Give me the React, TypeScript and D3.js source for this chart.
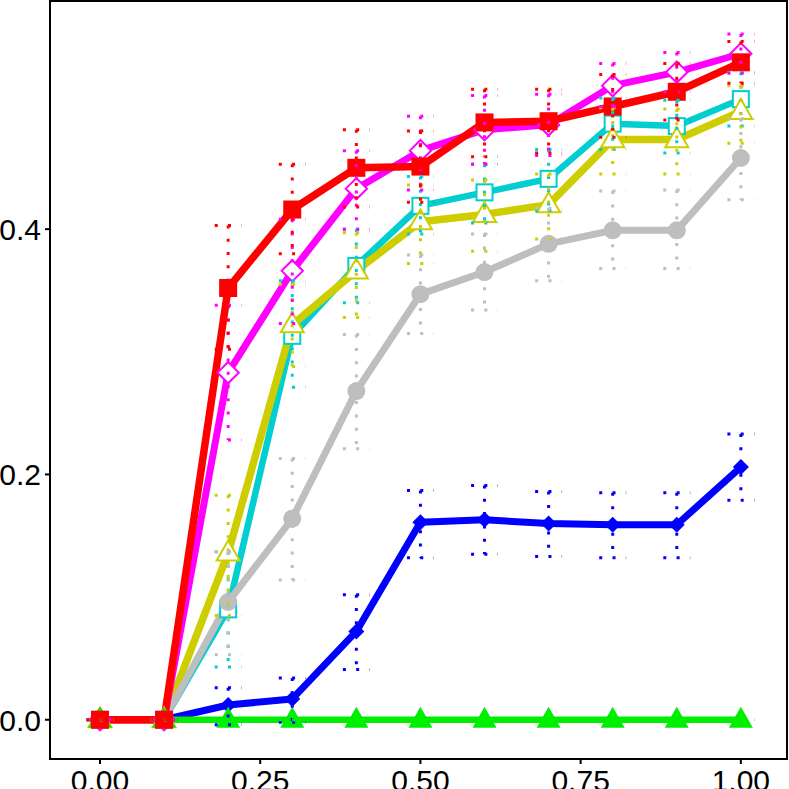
import * as d3 from "d3";

const xs = [0, 0.1, 0.2, 0.3, 0.4, 0.5, 0.6, 0.7, 0.8, 0.9, 1.0];

const redMean = [0, 0, 0.352, 0.416, 0.45, 0.451, 0.487, 0.488, 0.5, 0.512, 0.536];
const redLo = [0, 0, 0.302, 0.38, 0.418, 0.422, 0.459, 0.462, 0.475, 0.489, 0.519];
const redHi = [0, 0, 0.403, 0.453, 0.481, 0.48, 0.514, 0.514, 0.526, 0.535, 0.553];

const magentaMean = [0, 0, 0.283, 0.366, 0.433, 0.464, 0.481, 0.485, 0.517, 0.528, 0.543];
const magentaLo = [0, 0, 0.228, 0.323, 0.4, 0.432, 0.453, 0.46, 0.5, 0.512, 0.527];
const magentaHi = [0, 0, 0.338, 0.408, 0.464, 0.492, 0.509, 0.51, 0.535, 0.544, 0.559];

const cyanMean = [0, 0, 0.09, 0.313, 0.37, 0.419, 0.43, 0.441, 0.486, 0.484, 0.506];
const cyanLo = [0, 0, 0.043, 0.271, 0.34, 0.396, 0.405, 0.415, 0.465, 0.462, 0.484];
const cyanHi = [0, 0, 0.137, 0.358, 0.4, 0.443, 0.453, 0.465, 0.507, 0.505, 0.528];

const yellowMean = [0, 0, 0.136, 0.322, 0.366, 0.406, 0.412, 0.42, 0.473, 0.473, 0.496];
const yellowLo = [0, 0, 0.085, 0.288, 0.328, 0.372, 0.382, 0.392, 0.445, 0.445, 0.47];
const yellowHi = [0, 0, 0.183, 0.355, 0.397, 0.436, 0.44, 0.445, 0.499, 0.498, 0.517];

const grayMean = [0, 0, 0.096, 0.164, 0.268, 0.347, 0.365, 0.388, 0.399, 0.399, 0.458];
const grayLo = [0, 0, 0.053, 0.114, 0.221, 0.315, 0.334, 0.358, 0.368, 0.368, 0.424];
const grayHi = [0, 0, 0.137, 0.213, 0.314, 0.379, 0.396, 0.417, 0.431, 0.432, 0.49];

const blueMean = [0, 0, 0.012, 0.017, 0.072, 0.161, 0.163, 0.16, 0.159, 0.159, 0.206];
const blueLo = [0, 0, -0.004, -0.002, 0.041, 0.132, 0.135, 0.133, 0.132, 0.132, 0.179];
const blueHi = [0, 0, 0.026, 0.034, 0.102, 0.187, 0.191, 0.186, 0.185, 0.185, 0.233];

const greenMean = [0, 0, 0, 0, 0, 0, 0, 0, 0, 0, 0];

const xTicks = [0, 0.25, 0.5, 0.75, 1];
const xTickLabels = ["0.00", "0.25", "0.50", "0.75", "1.00"];
const yTicks = [0, 0.2, 0.4];
const yTickLabels = ["0.0", "0.2", "0.4"];

type Shape = "square" | "diamond" | "openSquare" | "openTriangle" | "circle" | "openDiamond" | "triangle";

// drawing order: later series sit on top
const series = [
  { name: "blue", mean: blueMean, lo: blueLo, hi: blueHi, color: "#0000FF", lw: 7, shape: "diamond" as Shape, size: 16 },
  { name: "cyan", mean: cyanMean, lo: cyanLo, hi: cyanHi, color: "#00CED1", lw: 6.5, shape: "openSquare" as Shape, size: 16 },
  { name: "yellow", mean: yellowMean, lo: yellowLo, hi: yellowHi, color: "#CDCD00", lw: 7.5, shape: "openTriangle" as Shape, size: 23 },
  { name: "gray", mean: grayMean, lo: grayLo, hi: grayHi, color: "#BEBEBE", lw: 7, shape: "circle" as Shape, size: 18 },
  { name: "magenta", mean: magentaMean, lo: magentaLo, hi: magentaHi, color: "#FF00FF", lw: 7, shape: "openDiamond" as Shape, size: 15 },
  { name: "green", mean: greenMean, lo: greenMean, hi: greenMean, color: "#00EE00", lw: 6.5, shape: "triangle" as Shape, size: 24 },
  { name: "red", mean: redMean, lo: redLo, hi: redHi, color: "#FF0000", lw: 7.5, shape: "square" as Shape, size: 18 },
];

const W = 789;
const H = 789;
const PANEL = { left: 50, right: 787, top: 1, bottom: 759 };

function marker(shape: Shape, cx: number, cy: number, s: number, color: string, key: string) {
  const h = s / 2;
  switch (shape) {
    case "square":
      return <rect key={key} x={cx - h} y={cy - h} width={s} height={s} fill={color} />;
    case "openSquare":
      return <rect key={key} x={cx - h} y={cy - h} width={s} height={s} fill="white" stroke={color} strokeWidth={2} />;
    case "circle":
      return <circle key={key} cx={cx} cy={cy} r={h} fill={color} />;
    case "diamond":
      return <path key={key} d={`M${cx},${cy - h}L${cx + h},${cy}L${cx},${cy + h}L${cx - h},${cy}Z`} fill={color} />;
    case "openDiamond": {
      const r = h * 1.414;
      return <path key={key} d={`M${cx},${cy - r}L${cx + r},${cy}L${cx},${cy + r}L${cx - r},${cy}Z`} fill="white" stroke={color} strokeWidth={2} />;
    }
    case "triangle":
    case "openTriangle": {
      const th = s * 0.866;
      const d = `M${cx},${cy - th * 0.62}L${cx + h},${cy + th * 0.38}L${cx - h},${cy + th * 0.38}Z`;
      return shape === "triangle" ? (
        <path key={key} d={d} fill={color} />
      ) : (
        <path key={key} d={d} fill="white" stroke={color} strokeWidth={2} />
      );
    }
  }
}

export default function App() {
  const x = d3.scaleLinear().domain([-0.078, 1.072]).range([PANEL.left, PANEL.right]);
  const y = d3.scaleLinear().domain([-0.032, 0.586]).range([PANEL.bottom, PANEL.top]);
  const half = x(0.021) - x(0);

  const line = d3
    .line<number>()
    .x((_, i) => x(xs[i]))
    .y((d) => y(d));

  const dash = "3 10.3";

  return (
    <svg
      width={W}
      height={H}
      style={{ position: "absolute", left: 0, top: 0, display: "block", background: "white" }}
      fontFamily="'Liberation Sans', Arial, Helvetica, sans-serif"
    >
      <rect x={0} y={0} width={W} height={H} fill="white" />
      <defs>
        <clipPath id="panel">
          <rect x={PANEL.left} y={PANEL.top} width={PANEL.right - PANEL.left} height={PANEL.bottom - PANEL.top} />
        </clipPath>
      </defs>

      <g clipPath="url(#panel)">
        {/* lines */}
        {series.map((s) => (
          <path
            key={`l-${s.name}`}
            d={line(s.mean) ?? ""}
            fill="none"
            stroke={s.color}
            strokeWidth={s.lw}
            strokeLinejoin="round"
          />
        ))}
        {/* points */}
        {series.map((s) => (
          <g key={`p-${s.name}`}>
            {s.mean.map((v, i) => marker(s.shape, x(xs[i]), y(v), s.size, s.color, `${s.name}-${i}`))}
          </g>
        ))}
        {/* error bars */}
        {series.map((s) => (
          <g key={`e-${s.name}`} stroke={s.color} strokeWidth={3} strokeDasharray={dash} fill="none">
            {s.mean.map((_, i) => {
              const cx = x(xs[i]);
              const yl = y(s.lo[i]);
              const yh = y(s.hi[i]);
              return (
                <g key={i}>
                  <line x1={cx - half} x2={cx + half} y1={yh} y2={yh} />
                  {yl - yh > 1 && <line x1={cx} x2={cx} y1={yh} y2={yl} />}
                  {yl - yh > 1 && <line x1={cx - half} x2={cx + half} y1={yl} y2={yl} />}
                </g>
              );
            })}
          </g>
        ))}
      </g>

      {/* panel border */}
      <rect
        x={PANEL.left}
        y={PANEL.top}
        width={PANEL.right - PANEL.left}
        height={PANEL.bottom - PANEL.top}
        fill="none"
        stroke="black"
        strokeWidth={2}
      />

      {/* x axis */}
      {xTicks.map((t, i) => (
        <g key={`xt-${t}`}>
          <line x1={x(t)} x2={x(t)} y1={PANEL.bottom} y2={PANEL.bottom + 5} stroke="black" strokeWidth={2} />
          <text x={x(t)} y={791} textAnchor="middle" fontSize={30} fill="black">
            {xTickLabels[i]}
          </text>
        </g>
      ))}

      {/* y axis */}
      {yTicks.map((t, i) => (
        <g key={`yt-${t}`}>
          <line x1={PANEL.left - 5} x2={PANEL.left} y1={y(t)} y2={y(t)} stroke="black" strokeWidth={2} />
          <text x={41} y={y(t) + 11} textAnchor="end" fontSize={30} fill="black">
            {yTickLabels[i]}
          </text>
        </g>
      ))}
    </svg>
  );
}
